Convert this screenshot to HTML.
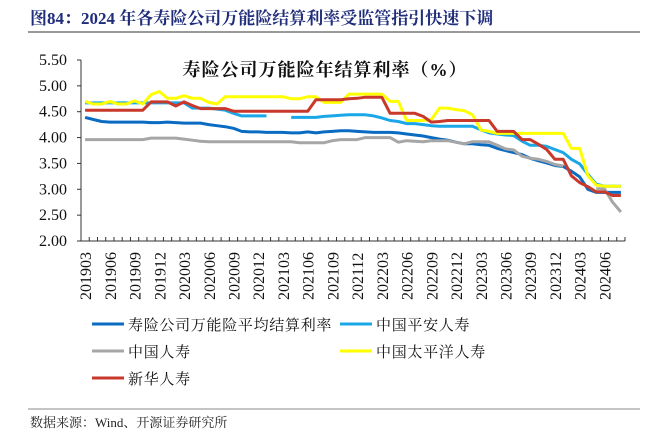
<!DOCTYPE html>
<html><head><meta charset="utf-8"><style>
body{margin:0;background:#fff;}
svg{display:block;font-family:"Liberation Serif","Noto Serif CJK SC",serif;}
</style></head><body>
<svg id="c" width="657" height="433" viewBox="0 0 657 433">
<text x="30" y="24" font-size="17" font-weight="bold" fill="#1f2d7b">图84：2024 年各寿险公司万能险结算利率受监管指引快速下调</text>
<line x1="28" y1="32" x2="640" y2="32" stroke="#999" stroke-width="2"/>
<text x="325" y="76" font-size="18" font-weight="bold" text-anchor="middle" fill="#111" letter-spacing="1">寿险公司万能险年结算利率（%）</text>
<g id="axes"></g><g id="series"></g>
<g id="legend" font-size="15" fill="#111" font-family="'Noto Serif CJK SC',serif"></g>
<line x1="28" y1="409" x2="640" y2="409" stroke="#888" stroke-width="1"/>
<text x="30" y="427" font-size="13" fill="#222">数据来源：Wind、开源证券研究所</text>
</svg>
<script>
const yTicks=[2.0,2.5,3.0,3.5,4.0,4.5,5.0,5.5];
const startYear=2019, startMonth=3, nMonths=66;
const avgRate=[4.39,4.35,4.31,4.30,4.30,4.30,4.30,4.30,4.29,4.29,4.30,4.29,4.28,4.28,4.28,4.25,4.23,4.21,4.18,4.12,4.11,4.11,4.10,4.10,4.10,4.09,4.09,4.11,4.09,4.11,4.12,4.13,4.13,4.12,4.11,4.10,4.10,4.10,4.09,4.07,4.05,4.03,4.00,3.97,3.95,3.91,3.88,3.88,3.86,3.85,3.79,3.75,3.71,3.67,3.60,3.55,3.51,3.46,3.44,3.35,3.24,3.00,2.94,2.94,2.94,2.94];
const pingan=[4.67,4.67,4.67,4.67,4.67,4.67,4.67,4.67,4.67,4.67,4.67,4.67,4.67,4.57,4.57,4.57,4.55,4.53,4.47,4.42,4.42,4.42,4.42,null,null,4.39,4.39,4.39,4.39,4.41,4.42,4.43,4.44,4.44,4.44,4.42,4.38,4.33,4.31,4.27,4.27,4.25,4.23,4.22,4.22,4.22,4.22,4.22,4.15,4.09,4.07,4.05,4.04,3.93,3.85,3.85,3.83,3.77,3.71,3.58,3.49,3.29,3.10,3.06,3.06,3.06];
const renshou=[3.96,3.96,3.96,3.96,3.96,3.96,3.96,3.96,3.99,3.99,3.99,3.99,3.97,3.95,3.93,3.92,3.92,3.92,3.92,3.92,3.92,3.92,3.92,3.92,3.92,3.92,3.90,3.90,3.90,3.90,3.94,3.96,3.96,3.96,4.00,4.00,4.00,4.00,3.91,3.94,3.93,3.92,3.94,3.94,3.94,3.91,3.88,3.92,3.92,3.92,3.85,3.78,3.76,3.64,3.60,3.58,3.54,3.48,3.45,null,null,null,3.01,3.01,2.75,2.56];
const taiping=[4.70,4.65,4.65,4.70,4.65,4.65,4.71,4.65,4.83,4.89,4.76,4.76,4.81,4.76,4.76,4.68,4.65,4.79,4.79,4.79,4.79,4.79,4.79,4.79,4.79,4.75,4.75,4.79,4.79,4.68,4.68,4.68,4.84,4.84,4.84,4.84,4.84,4.70,4.70,4.33,4.33,4.33,4.35,4.57,4.57,4.54,4.52,4.44,4.15,4.12,4.08,4.08,4.08,4.08,4.08,4.08,4.08,4.08,4.08,3.79,3.79,3.26,3.08,3.06,3.06,3.06];
const xinhua=[4.53,4.53,4.53,4.53,4.53,4.53,4.53,4.53,4.69,4.69,4.69,4.61,4.69,4.62,4.56,4.56,4.56,4.56,4.51,4.51,4.51,4.51,4.51,4.51,4.51,4.51,4.51,4.51,4.73,4.73,4.73,4.73,4.75,4.76,4.78,4.78,4.78,4.47,4.47,4.47,4.47,4.41,4.30,4.31,4.33,4.33,4.33,4.33,4.33,4.33,4.12,4.12,4.12,3.96,3.96,3.87,3.77,3.58,3.58,3.26,3.13,3.05,2.95,2.95,2.88,2.88];
const seriesNames=["寿险公司万能险平均结算利率","中国平安人寿","中国人寿","中国太平洋人寿","新华人寿"];
const seriesColors=["#0a6bc2","#1aa7e8","#a6a6a6","#ffff00","#c8392b"];
const seriesKeys=["avg-rate","pingan","renshou","taiping","xinhua"];
const allSeries=[avgRate,pingan,renshou,taiping,xinhua];

const NS="http://www.w3.org/2000/svg";
const X0=81,X1=625,Y0=241,Y1=60;
const slot=(X1-X0)/nMonths;
function xPos(i){return X0+(i+0.5)*slot;}
function yPos(v){return Y0-(v-2)/(5.5-2)*(Y0-Y1);}
function mk(tag,attrs,parent){const e=document.createElementNS(NS,tag);for(const k in attrs)e.setAttribute(k,attrs[k]);parent.appendChild(e);return e;}
const axes=document.getElementById('axes');
let a=mk('line',{x1:X0,y1:Y1,x2:X0,y2:Y0,stroke:'#333','stroke-width':1},axes);


a=mk('line',{x1:X0,y1:Y0,x2:X1,y2:Y0,stroke:'#333','stroke-width':1},axes);


yTicks.forEach(v=>{
  const y=yPos(v);
  mk('line',{x1:X0-4,y1:y,x2:X0,y2:y,stroke:'#333'},axes);
  const t=mk('text',{x:67,y:y+5,'font-size':16,'text-anchor':'end',fill:'#111'},axes);
  t.textContent=v.toFixed(2);
  
  
});
for(let i=0;i<=nMonths;i++){const x=X0+i*slot;mk('line',{x1:x,y1:Y0,x2:x,y2:Y0-4,stroke:'#333'},axes);}
for(let i=0;i<nMonths;i+=3){
  const m=startMonth-1+i, yr=startYear+Math.floor(m/12), mo=m%12+1;
  const lab=yr+String(mo).padStart(2,'0');
  const x=xPos(i)+6, y=300;
  const t=mk('text',{x:x,y:y,'font-size':16,fill:'#111',transform:`rotate(-90 ${x} ${y})`},axes);
  t.textContent=lab;
  
  
}
const sg=document.getElementById('series');
allSeries.forEach((arr,k)=>{
  let d='',pen=false;
  arr.forEach((v,i)=>{if(v==null){pen=false;return;}d+=(pen?'L':'M')+xPos(i).toFixed(1)+' '+yPos(v).toFixed(1);pen=true;});
  const p=mk('path',{d:d,fill:'none',stroke:seriesColors[k],'stroke-width':3,'stroke-linejoin':'round'},sg);
  
  
});
const lg=document.getElementById('legend');
const pos=[[92,324],[340,324],[92,351],[340,351],[92,378]];
seriesNames.forEach((n,k)=>{
  const [x,y]=pos[k];
  const g=mk('g',{},lg);
  
  
  mk('line',{x1:x,y1:y,x2:x+32,y2:y,stroke:seriesColors[k],'stroke-width':3},g);
  const t=mk('text',{x:x+36,y:y+6,'letter-spacing':0.7},g);
  t.textContent=n;
});
</script>
</body></html>
